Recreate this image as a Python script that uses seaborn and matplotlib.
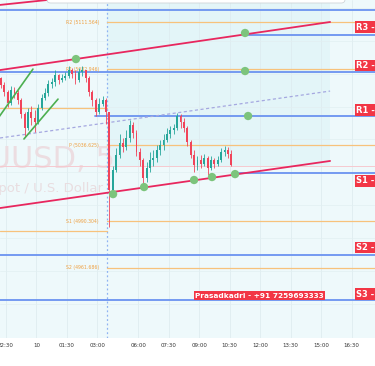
import numpy as np
import pandas as pd
import matplotlib
matplotlib.use("Agg")
import matplotlib.pyplot as plt
import seaborn as sns
from matplotlib.patches import FancyBboxPatch

# 10-minute candles, x = 5-min bar index (22:30 = 0, session gap removed)
bar_idx = list(range(-3, 134, 2))
first_open = 5077.5
closes = [5073.2, 5068.9, 5062.2, 5070.1, 5068.3, 5064.0, 5055.5, 5047.0, 5056.7, 5053.1,
          5050.6, 5059.2, 5065.3, 5068.3, 5073.8, 5075.0, 5079.3, 5076.2, 5077.5, 5078.7,
          5082.3, 5079.9, 5076.2, 5081.1, 5082.3, 5077.5, 5068.9, 5064.0, 5056.7, 5061.6,
          5064.0, 5056.7, 5009.2, 5021.4, 5030.5, 5037.8, 5035.4, 5040.9, 5048.8, 5043.9,
          5032.3, 5027.5, 5016.5, 5022.6, 5027.5, 5028.7, 5033.6, 5036.6, 5039.7, 5043.3,
          5045.8, 5047.0, 5054.3, 5050.6, 5047.0, 5038.4, 5030.5, 5024.4, 5027.5, 5025.0,
          5028.7, 5022.6, 5027.5, 5025.0, 5027.5, 5032.3, 5033.6, 5031.1, 5024.4]
highs = [5078.1, 5075.0, 5070.1, 5072.6, 5072.0, 5070.1, 5065.3, 5056.7, 5059.2, 5060.4,
         5058.0, 5061.6, 5067.7, 5071.4, 5076.2, 5077.5, 5082.3, 5079.9, 5079.9, 5081.1,
         5084.8, 5083.5, 5082.3, 5083.5, 5084.8, 5082.3, 5078.7, 5070.1, 5065.3, 5065.3,
         5066.5, 5065.3, 5056.7, 5023.8, 5034.8, 5043.3, 5040.9, 5045.8, 5051.9, 5050.6,
         5045.8, 5034.8, 5028.7, 5026.2, 5032.3, 5033.6, 5036.6, 5039.7, 5043.3, 5047.0,
         5048.2, 5049.4, 5056.1, 5055.5, 5053.1, 5048.2, 5039.7, 5033.6, 5029.9, 5030.5,
         5031.1, 5029.9, 5029.9, 5028.7, 5029.9, 5034.8, 5036.0, 5035.4, 5033.6]
lows = [5071.4, 5066.5, 5059.8, 5061.0, 5065.3, 5061.6, 5053.1, 5042.1, 5045.8, 5048.8,
        5044.5, 5049.4, 5058.0, 5064.0, 5066.5, 5071.4, 5072.6, 5073.8, 5075.0, 5076.2,
        5077.5, 5077.5, 5073.8, 5075.0, 5078.7, 5075.0, 5066.5, 5060.4, 5054.3, 5055.5,
        5060.4, 5049.4, 4986.6, 5006.1, 5020.2, 5028.7, 5032.3, 5033.6, 5038.4, 5040.9,
        5029.9, 5023.8, 5012.8, 5014.1, 5020.2, 5023.8, 5026.2, 5030.5, 5033.6, 5038.4,
        5040.9, 5043.3, 5045.8, 5047.0, 5044.5, 5036.0, 5028.7, 5020.2, 5021.4, 5022.6,
        5023.8, 5018.3, 5021.4, 5022.6, 5023.8, 5026.2, 5029.9, 5028.7, 5023.8]

tick_pos = [0, 18, 36, 54, 78, 96, 114, 132, 150, 168, 186, 204]
tick_labels = ["22:30", "10", "01:30", "03:00", "06:00", "07:30", "09:00", "10:30",
               "12:00", "13:30", "15:00", "16:30"]

# pivot levels (orange) today / previous session
pivot_names = ["R2", "R1", "P", "S1", "S2"]
pivot_vals = [5111.564, 5082.946, 5036.625, 4990.304, 4961.686]
prev_pivots = [5059.2, 4984.5]

# blue S/R lines: (price, start bar)
sr_prices = [5118.9, 5103.6, 5081.1, 5054.3, 5019.6, 4969.6, 4942.2]
sr_starts = [-5, 141, -5, 52.5, 134, -5, -5]

box_names = ["R3", "R2", "R1", "S1", "S2", "S3"]
box_vals = [5103.6, 5081.1, 5054.3, 5019.6, 4969.6, 4942.2]
box_y = [5108.5, 5085.1, 5057.9, 5014.7, 4974.2, 4945.8]

dots_x = [41.3, 141.1, 141.1, 142.9, 63.2, 81.5, 111.0, 121.6, 135.2]
dots_y = [5089.0, 5104.9, 5081.7, 5054.3, 5006.7, 5011.0, 5015.3, 5017.1, 5018.9]

# trend lines: (x0, y0, x1, y1)
upper_line = [-3.54, 5082.3, 191.3, 5111.6]
lower_line = [-3.54, 4998.2, 191.3, 5026.9]
mid_line = [-3.54, 5040.9, 191.3, 5069.5]
top_line = [-3.54, 5122.0, 40.0, 5126.7]
green_a = [-6.0, 5051.0, 15.9, 5082.9]
green_b = [10.6, 5040.3, 30.7, 5064.6]

sns.set_theme(style="white")
plt.rcParams["font.family"] = ["DejaVu Sans"]

fig = plt.figure(figsize=(3.75, 3.66), dpi=100)
fig.patch.set_facecolor("white")
ax = fig.add_axes([0, 28 / 366, 1, 338 / 366])
ax.set_facecolor("#eef9fb")
x_min, x_max = -3.54, 217.8
y_min, y_max = 4919.0, 5125.0
ax.set_xlim(x_min, x_max)
ax.set_ylim(y_min, y_max)

# shaded zone
ax.fill_between([59.5, 191.3], 5023.8, y_max, color="#e3f5f8", zorder=0, lw=0)

# grid
for t in tick_pos:
    ax.axvline(t, color="#dceaee", lw=0.5, zorder=0.5)
for p in range(4940, 5125, 20):
    ax.axhline(p, color="#e2eff2", lw=0.5, zorder=0.5)

# watermark
ax.text(64.0, 5027.5, "XAUUSD, 5", ha="right", va="center", fontsize=22,
        color="#ecdde1", zorder=0.8)
ax.text(57.3, 5010.4, "Gold Spot / U.S. Dollar", ha="right", va="center", fontsize=9.5,
        color="#e9dde0", zorder=0.8)

# current price line
ax.axhline(5023.8, color="#f6c9cf", lw=0.7, zorder=1)

# session break
ax.axvline(59.5, color="#8fb3f2", lw=0.9, ls=(0, (1.5, 2)), zorder=1)

# orange pivots
for name, v in zip(pivot_names, pivot_vals):
    ax.plot([59.5, x_max], [v, v], color="#f7c27c", lw=0.9, zorder=1.5)
    ax.text(54.9, v, f"{name} ({v:.3f})", ha="right", va="center", fontsize=3.3,
            color="#eea040", zorder=2)
for v in prev_pivots:
    ax.plot([x_min, 59.5], [v, v], color="#f7c27c", lw=0.9, zorder=1.5)

# blue S/R
for v, s in zip(sr_prices, sr_starts):
    ax.plot([s, x_max], [v, v], color="#6b93f0", lw=1.3, zorder=1.6)

# trend lines
trend = pd.DataFrame({
    "x": [upper_line[0], upper_line[2], lower_line[0], lower_line[2],
          top_line[0], top_line[2]],
    "y": [upper_line[1], upper_line[3], lower_line[1], lower_line[3],
          top_line[1], top_line[3]],
    "line": ["up", "up", "low", "low", "top", "top"],
})
sns.lineplot(data=trend, x="x", y="y", units="line", estimator=None, color="#e8275e",
             lw=1.3, ax=ax, zorder=3)
ax.plot([mid_line[0], mid_line[2]], [mid_line[1], mid_line[3]], color="#a5a8e0",
        lw=0.9, ls=(0, (2.5, 2)), zorder=2)
for g in (green_a, green_b):
    ax.plot([g[0], g[2]], [g[1], g[3]], color="#4caf50", lw=1.2, zorder=3)

# candles
opens = [first_open] + closes[:-1]
for b, o, c, h, l in zip(bar_idx, opens, closes, highs, lows):
    col = "#26a69a" if c >= o else "#f0445a"
    ax.vlines(b, l, h, color=col, lw=0.6, zorder=2.5)
    ax.bar(b, max(abs(c - o), 0.4), bottom=min(o, c), width=1.1, color=col, lw=0,
           zorder=2.6)

# dots
sns.scatterplot(x=dots_x, y=dots_y, s=36, color="#7cc47c", edgecolor="none", ax=ax,
                zorder=4)

# right labels
for name, v, yy in zip(box_names, box_vals, box_y):
    ax.text(206.5, yy, f"{name} - {v:.2f}", ha="left", va="center", fontsize=6,
            fontweight="bold", color="white", zorder=5,
            bbox=dict(boxstyle="square,pad=0.15", fc="#f23645", ec="none"))
ax.text(149.6, 4944.9, "Prasadkadri - +91 7259693333", ha="center", va="center",
        fontsize=5.3, fontweight="bold", color="white", zorder=5,
        bbox=dict(boxstyle="square,pad=0.15", fc="#f23645", ec="none"))

ax.set_xticks(tick_pos)
ax.set_xticklabels(tick_labels)
ax.set_yticks([])
ax.tick_params(axis="x", length=0, pad=3.5, labelsize=4, labelcolor="#333333")
ax.set_xlabel("")
ax.set_ylabel("")
for sp in ax.spines.values():
    sp.set_visible(False)

# top toolbar edge
fig.patches.append(FancyBboxPatch((47 / 375, 1 - 3 / 366), 298 / 375, 0.05,
                                  boxstyle="round,pad=0,rounding_size=0.01",
                                  transform=fig.transFigure, fc="white", ec="#cfd4d8",
                                  lw=0.6, zorder=10))

fig.savefig("out.png", dpi=100)
